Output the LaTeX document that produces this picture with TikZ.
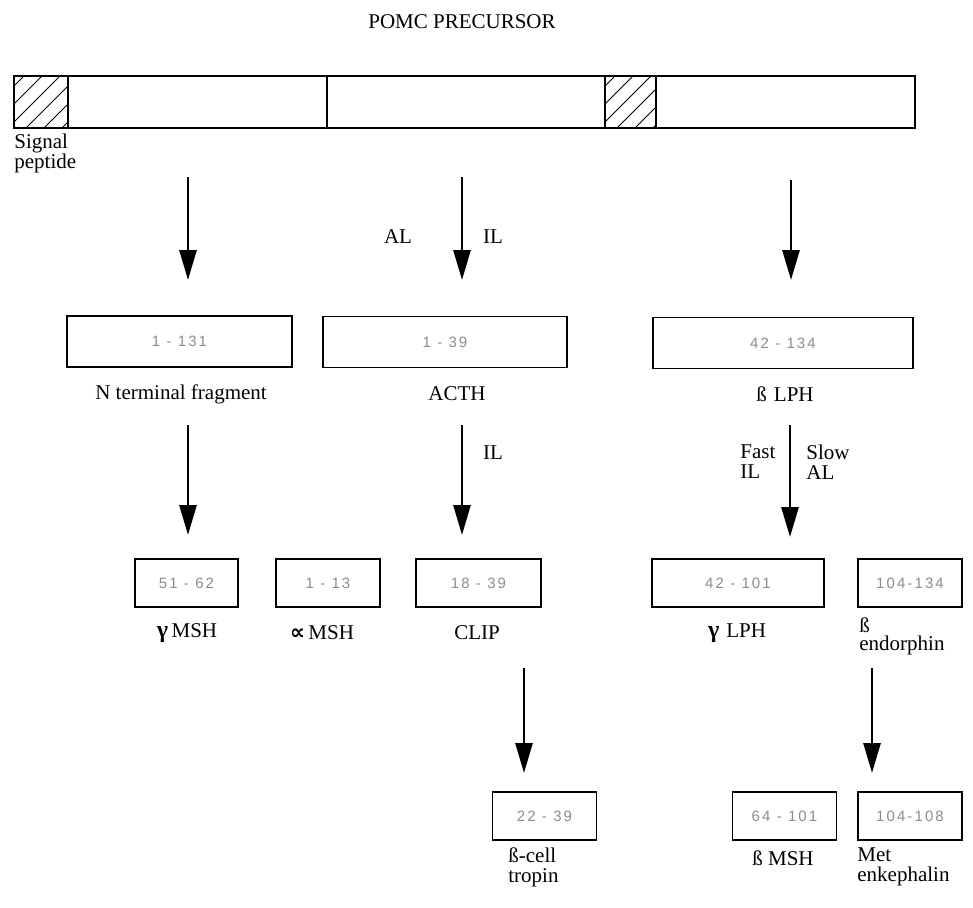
\documentclass[tikz,border=0pt]{standalone}
\usepackage{fontspec}
\setmainfont{Liberation Serif}
\newfontfamily\symfont{DejaVu Sans}
\newfontfamily\numfont[LetterSpace=14]{Liberation Sans}
\usetikzlibrary{arrows.meta}
\begin{document}
\begin{tikzpicture}[x=0.5pt,y=-0.5pt,
  box/.style={draw, line width=0.7pt, inner sep=0pt, font=\numfont\fontsize{7.5}{9}\selectfont, text=black!45},
  lab/.style={font=\fontsize{10.5}{12}\selectfont, inner sep=0pt},
  labl/.style={lab, anchor=west, align=left},
  arr/.style={line width=1.4pt, -{Triangle[length=15pt,width=8.5pt]}},
  bar/.style={line width=0.6pt},
  hatch/.style={line width=0.4pt}
]
\useasboundingbox (0,0) rectangle (973,907);

% title
\node[lab] (title) at (462,22) {POMC PRECURSOR};

% precursor bar
\draw[bar] (14,76) rectangle (915,128);
\draw[bar] (68,76) -- (68,128);
\draw[bar] (327,76) -- (327,128);
\draw[bar] (605,76) -- (605,128);
\draw[bar] (656,76) -- (656,128);
\begin{scope}
  \clip (14,76) rectangle (68,128);
  \foreach \o in {-60,-42,...,60} {
    \draw[hatch] (14+\o,128) -- (66+\o,76);
  }
\end{scope}
\begin{scope}
  \clip (605,76) rectangle (656,128);
  \foreach \o in {-60,-42,...,60} {
    \draw[hatch] (605+\o,128) -- (657+\o,76);
  }
\end{scope}
\node[labl] (sig) at (14,153) {Signal\\[-2pt]peptide};

% row 1 arrows
\coordinate (a1s) at (188,177); \coordinate (a1e) at (188,280);
\coordinate (a2s) at (462,177); \coordinate (a2e) at (462,280);
\coordinate (a3s) at (791,180); \coordinate (a3e) at (791,280);
\draw[arr] (a1s) -- (a1e);
\draw[arr] (a2s) -- (a2e);
\draw[arr] (a3s) -- (a3e);
\node[lab] (al1) at (398,237) {AL};
\node[lab] (il1) at (493,237) {IL};

% row 1 boxes
\node[box, minimum width=112.5pt, minimum height=25.5pt] (b1) at (179.5,341.5) {1 - 131};
\node[box, minimum width=122pt, minimum height=25.5pt] (b2) at (445,342) {1 - 39};
\node[box, minimum width=130pt, minimum height=25.5pt] (b3) at (783,343) {42 - 134};
\node[lab] (nterm) at (181,394) {N terminal fragment};
\node[lab] (acth) at (457,394) {ACTH};
\node[lab] (blph) at (785,394) {ß\,\,LPH};

% row 2 arrows
\coordinate (c1s) at (188,425); \coordinate (c1e) at (188,535);
\coordinate (c2s) at (462,425); \coordinate (c2e) at (462,535);
\coordinate (c3s) at (790,425); \coordinate (c3e) at (790,537);
\draw[arr] (c1s) -- (c1e);
\draw[arr] (c2s) -- (c2e);
\draw[arr] (c3s) -- (c3e);
\node[lab] (il2) at (493,453) {IL};
\node[labl] (fast) at (740,462) {Fast\\[-2pt]IL};
\node[labl] (slow) at (806,462) {Slow\\[-2pt]AL};

% row 2 boxes
\node[box, minimum width=51.5pt, minimum height=24pt] (d1) at (186.5,583) {51 - 62};
\node[box, minimum width=52pt, minimum height=24pt] (d2) at (328,583) {1 - 13};
\node[box, minimum width=62.5pt, minimum height=24pt] (d3) at (478.5,583) {18 - 39};
\node[box, minimum width=86pt, minimum height=24pt] (d4) at (738,583) {42 - 101};
\node[box, minimum width=52pt, minimum height=24pt] (d5) at (910,583) {104-134};
\node[lab] (gmsh) at (187,633) {{\fontsize{12}{12}\selectfont\textbf{γ}}\,MSH};
\node[lab] (amsh) at (322,633) {{\symfont\bfseries ∝}\,MSH};
\node[lab] (clip) at (477,633) {CLIP};
\node[lab] (glph) at (737,633) {{\fontsize{12}{12}\selectfont\textbf{γ}}\,\,LPH};
\node[labl] (bend) at (859,636) {ß\\[-3pt]endorphin};

% row 3 arrows
\coordinate (e1s) at (524,668); \coordinate (e1e) at (524,773);
\coordinate (e2s) at (872,668); \coordinate (e2e) at (872,773);
\draw[arr] (e1s) -- (e1e);
\draw[arr] (e2s) -- (e2e);

% row 3 boxes
\node[box, minimum width=52pt, minimum height=24pt] (f1) at (544.5,816) {22 - 39};
\node[box, minimum width=52pt, minimum height=24pt] (f2) at (784.5,816) {64 - 101};
\node[box, minimum width=52pt, minimum height=24pt] (f3) at (910,816) {104-108};
\node[labl] (bcell) at (508,867) {ß-cell\\[-2pt]tropin};
\node[lab] (bmsh) at (783,858) {ß MSH};
\node[labl] (met) at (857,867) {Met\\[-2pt]enkephalin};
\end{tikzpicture}
\end{document}
